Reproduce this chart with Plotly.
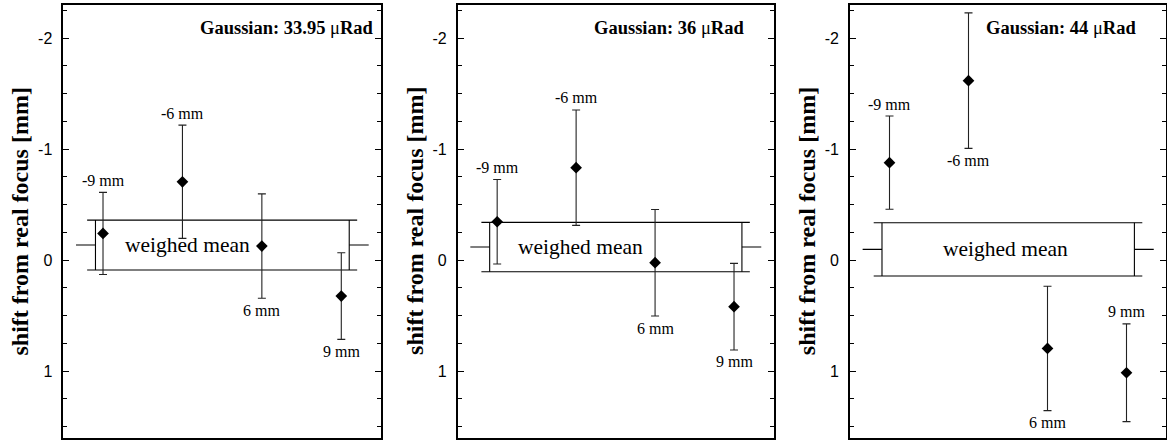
import plotly.graph_objects as go

# ---------------- data ----------------
positions = [1, 2, 3, 4]
labels = ["-9 mm", "-6 mm", "6 mm", "9 mm"]

titles = ["Gaussian: 33.95 ", "Gaussian: 36 ", "Gaussian: 44 "]

shift_p1 = [-0.24, -0.705, -0.126, 0.324]
err_p1 = [0.37, 0.51, 0.47, 0.39]
side_p1 = ["above", "above", "below", "below"]
mean_p1 = -0.135
mean_err_p1 = 0.225

shift_p2 = [-0.345, -0.832, 0.024, 0.42]
err_p2 = [0.38, 0.52, 0.48, 0.39]
side_p2 = ["above", "above", "below", "below"]
mean_p2 = -0.117
mean_err_p2 = 0.222

shift_p3 = [-0.877, -1.616, 0.796, 1.015]
err_p3 = [0.42, 0.61, 0.56, 0.44]
side_p3 = ["above", "below", "below", "above"]
mean_p3 = -0.096
mean_err_p3 = 0.24

mean_text_x = [2.06, 2.06, 2.47]

panels = [
    (shift_p1, err_p1, side_p1, mean_p1, mean_err_p1),
    (shift_p2, err_p2, side_p2, mean_p2, mean_err_p2),
    (shift_p3, err_p3, side_p3, mean_p3, mean_err_p3),
]

# ---------------- layout constants ----------------
W, H = 1167, 440
x_domains = [(63.3 / W, 381 / W), (457.7 / W, 773.5 / W), (850 / W, 1166 / W)]
y_domain = ((H - 437.7) / H, (H - 4.7) / H)
SERIF = "Liberation Serif, Times New Roman, serif"
SANS = "Liberation Sans, Helvetica, Arial, sans-serif"

fig = go.Figure()
annotations = []

for i, (ys, errs, sides, m, me) in enumerate(panels):
    n = "" if i == 0 else str(i + 1)
    xref, yref = "x" + n, "y" + n

    # weighed-mean box: horizontal lines, vertical sides, centre stubs
    box_lines = [
        ([0.80, 4.20], [m - me, m - me]),
        ([0.80, 4.20], [m + me, m + me]),
        ([0.905, 0.905], [m - me, m + me]),
        ([4.10, 4.10], [m - me, m + me]),
        ([0.66, 0.905], [m, m]),
        ([4.10, 4.345], [m, m]),
    ]
    for bx, by in box_lines:
        fig.add_trace(go.Scatter(
            x=bx, y=by, mode="lines", xaxis=xref, yaxis=yref,
            line=dict(color="black", width=1.1), showlegend=False, hoverinfo="skip"))

    # data points with error bars
    fig.add_trace(go.Scatter(
        x=positions, y=ys, mode="markers", xaxis=xref, yaxis=yref,
        marker=dict(symbol="diamond", size=9, color="black"),
        error_y=dict(type="data", array=errs, visible=True, color="#222222",
                     thickness=1.1, width=4),
        showlegend=False))

    # point labels
    for xp, yv, ev, lab, sd in zip(positions, ys, errs, labels, sides):
        if sd == "above":
            yy, sh = yv - ev, 12
        else:
            yy, sh = yv + ev, -12
        annotations.append(dict(
            x=xp, y=yy, xref=xref, yref=yref, text=lab, showarrow=False,
            yshift=sh, xanchor="center", yanchor="middle",
            font=dict(family=SERIF, size=16, color="black")))

    # weighed mean text
    annotations.append(dict(
        x=mean_text_x[i], y=m, xref=xref, yref=yref, text="weighed mean",
        showarrow=False, xanchor="center", yanchor="middle",
        font=dict(family=SERIF, size=21.5, color="black")))

    # Gaussian title
    annotations.append(dict(
        x=2.2, y=-2.09, xref=xref, yref=yref,
        text="<b>" + titles[i] + "</b>μ<b>Rad</b>", showarrow=False,
        xanchor="left", yanchor="middle",
        font=dict(family=SERIF, size=18.5, color="black")))

    # y-axis title
    annotations.append(dict(
        x=0, y=0.5, xref=xref + " domain", yref=yref + " domain",
        text="<b>shift from real focus [mm]</b>", textangle=-90,
        showarrow=False, xanchor="center", yanchor="middle", xshift=-43,
        font=dict(family=SERIF, size=24, color="black")))

    ax = dict(
        domain=list(x_domains[i]), range=[0.5, 4.5], showticklabels=False,
        ticks="", showgrid=False, zeroline=False, showline=True,
        linecolor="black", linewidth=1.6, mirror=True, anchor=yref)
    ay = dict(
        domain=list(y_domain), range=[1.6, -2.3], showgrid=False, zeroline=False,
        showline=True, linecolor="black", linewidth=1.6, mirror="ticks",
        ticks="inside", ticklen=6, tickwidth=1.2, tickcolor="black",
        tickvals=[-2, -1, 0, 1], ticktext=["-2", "-1", "0", "1"],
        tickfont=dict(family=SANS, size=16, color="black"),
        ticklabelstandoff=6,
        minor=dict(dtick=0.25, ticks="inside", ticklen=4, tickwidth=1.2,
                   tickcolor="black", showgrid=False),
        anchor=xref)
    fig.update_layout(**{"xaxis" + n: ax, "yaxis" + n: ay})

fig.update_layout(
    width=W, height=H, margin=dict(l=0, r=0, t=0, b=0),
    paper_bgcolor="white", plot_bgcolor="white",
    annotations=annotations, showlegend=False)

fig.write_html(
    "out.html",
    config={"displayModeBar": False},
    post_script="document.body.style.margin='0px';document.body.style.padding='0px';")
